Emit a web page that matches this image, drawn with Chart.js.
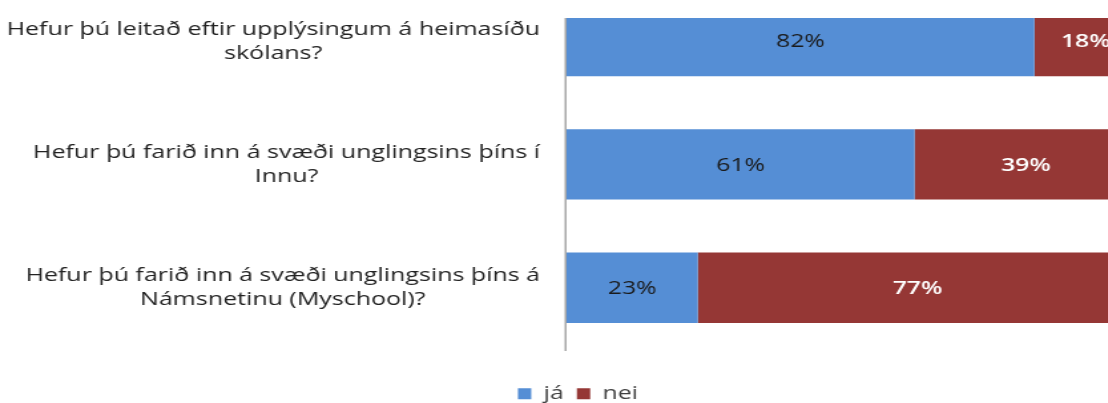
<!DOCTYPE html>
<html>
<head>
<meta charset="utf-8">
<script src="https://cdn.jsdelivr.net/npm/chart.js@4/dist/chart.umd.min.js"></script>
<style>
  body { margin: 0; background: #fff; }
  #wrap { position: relative; width: 1108px; height: 403px; overflow: hidden; }
  /* the source picture is stretched sideways, so the canvas is too */
  #chart { position: absolute; left: 0; top: -40px; transform: scaleX(1.33); transform-origin: 0 0; }
</style>
</head>
<body>
<div id="wrap"><canvas id="chart" width="857" height="453"></canvas></div>
<script>
// Chart data
const categories = [
    ['Hefur þú leitað eftir upplýsingum á heimasíðu', 'skólans?'],
    ['Hefur þú farið inn á svæði unglingsins þíns í', 'Innu?'],
    ['Hefur þú farið inn á svæði unglingsins þíns á', 'Námsnetinu (Myschool)?']
];
const seriesNames = ['já', 'nei'];
const jaValues = [82, 61, 23];
const neiValues = [18, 39, 77];

const FONT = '"Open Sans", sans-serif';
const LABEL_COLORS = ['#1a1a1a', '#ffffff'];
const LABEL_WEIGHTS = ['400', '600'];

// percent labels in the middle of each bar segment
const barLabels = {
    id: 'barLabels',
    afterDatasetsDraw(chart) {
        const ctx = chart.ctx;
        ctx.save();
        ctx.textAlign = 'center';
        ctx.textBaseline = 'middle';
        chart.data.datasets.forEach((ds, i) => {
            ctx.font = LABEL_WEIGHTS[i] + ' 18.6px ' + FONT;
            chart.getDatasetMeta(i).data.forEach((bar, j) => {
                const p = bar.getCenterPoint();
                ctx.fillStyle = LABEL_COLORS[i];
                ctx.fillText(ds.data[j] + '%', p.x, p.y + 1);
            });
        });
        // category axis line
        const area = chart.chartArea;
        ctx.strokeStyle = '#a6a6a6';
        ctx.lineWidth = 1.5;
        ctx.beginPath();
        ctx.moveTo(area.left - 0.75, area.top + 38.5);
        ctx.lineTo(area.left - 0.75, area.bottom + 1.5);
        ctx.stroke();
        ctx.restore();
    }
};

// question labels: block right aligned, lines centred inside the block
const questionLabels = {
    id: 'questionLabels',
    afterDraw(chart) {
        const ctx = chart.ctx;
        const yScale = chart.scales.y;
        const right = yScale.right - 20;
        const lineHeight = 24;
        ctx.save();
        ctx.font = '18.8px ' + FONT;
        ctx.fillStyle = '#222222';
        ctx.textAlign = 'center';
        ctx.textBaseline = 'middle';
        chart.data.labels.forEach((lines, i) => {
            const y = yScale.getPixelForValue(i);
            const w = Math.max(...lines.map(l => ctx.measureText(l).width));
            const x = right - w / 2;
            const top = y - (lines.length - 1) * lineHeight / 2;
            lines.forEach((line, k) => ctx.fillText(line, x, top + k * lineHeight));
        });
        ctx.restore();
    }
};

const ctx = document.getElementById('chart').getContext('2d');
new Chart(ctx, {
    type: 'bar',
    data: {
        labels: categories,
        datasets: [{
            label: seriesNames[0],
            data: jaValues,
            backgroundColor: '#558ed5',
            borderWidth: 0,
            clip: { left: 5, top: -38.5, right: 5, bottom: 0 }
        }, {
            label: seriesNames[1],
            data: neiValues,
            backgroundColor: '#953735',
            borderWidth: 0,
            clip: { left: 5, top: -38.5, right: 5, bottom: 0 }
        }]
    },
    options: {
        indexAxis: 'y',
        responsive: false,
        animation: false,
        devicePixelRatio: 1,
        categoryPercentage: 1,
        barPercentage: 0.57,
        layout: { padding: { left: 14, right: 2, top: 19.5, bottom: 0 } },
        plugins: {
            tooltip: { enabled: false },
            legend: {
                position: 'bottom',
                labels: {
                    boxWidth: 10,
                    boxHeight: 11,
                    padding: 10,
                    color: '#404040',
                    font: { family: FONT, size: 18.6 }
                }
            }
        },
        scales: {
            x: {
                stacked: true,
                min: 0,
                max: 100,
                ticks: { display: false },
                grid: { display: false },
                border: { display: false },
                afterFit(scale) { scale.height = 25; }
            },
            y: {
                stacked: true,
                ticks: { display: false },
                grid: { display: false },
                border: { display: false },
                afterFit(scale) { scale.width = 412; }
            }
        }
    },
    plugins: [barLabels, questionLabels]
});
</script>
</body>
</html>
